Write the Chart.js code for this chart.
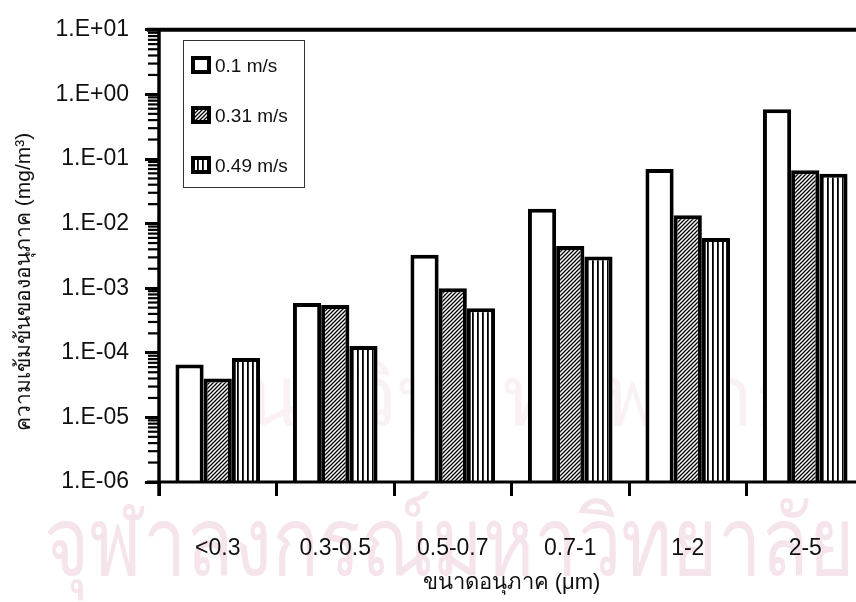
<!DOCTYPE html>
<html>
<head>
<meta charset="utf-8">
<script src="https://cdn.jsdelivr.net/npm/chart.js@4.4.1/dist/chart.umd.min.js"></script>
<style>
  html, body { margin: 0; padding: 0; background: #fff; overflow: hidden; }
  #wrap { position: relative; width: 856px; height: 602px; overflow: hidden; }
  .wm { position: absolute; white-space: nowrap; font-family: "Noto Sans", "DejaVu Sans", sans-serif; z-index: 0; transform-origin: 0 0; line-height: 1; }
  #wm1 { left: 44px; top: 490px; font-size: 96px; color: rgba(232, 185, 208, 0.38); }
  #wm2 { left: 190px; top: 352px; font-size: 82px; color: rgba(236, 200, 218, 0.26); }
  #c { position: absolute; left: 0; top: 0; z-index: 1; }
</style>
</head>
<body>
<div id="wrap">
  <div id="wm2" class="wm">ศูนย์วิทยทรัพยากร</div>
  <div id="wm1" class="wm">จุฬาลงกรณ์มหาวิทยาลัย</div>
  <canvas id="c" width="870" height="602"></canvas>
</div>
<script>
// ---- data ----
const categories = ["<0.3", "0.3-0.5", "0.5-0.7", "0.7-1", "1-2", "2-5"];
const seriesNames = ["0.1 m/s", "0.31 m/s", "0.49 m/s"];
const v01  = [6.6e-5, 5.9e-4, 3.3e-3, 1.7e-2, 7.0e-2, 0.59];
const v031 = [4.0e-5, 5.5e-4, 1.0e-3, 4.5e-3, 1.35e-2, 6.7e-2];
const v049 = [8.3e-5, 1.27e-4, 4.9e-4, 3.1e-3, 6.0e-3, 5.9e-2];
const yExponents = [-6, -5, -4, -3, -2, -1, 0, 1];
const yTitle = "ความเข้มข้นของอนุภาค (mg/m³)";
const xTitle = "ขนาดอนุภาค (μm)";

// fit watermarks horizontally
function fitWidth(id, w) {
  const el = document.getElementById(id);
  const r = el.getBoundingClientRect();
  el.style.transform = 'scaleX(' + (w / r.width) + ')';
}
fitWidth('wm1', 810);
fitWidth('wm2', 660);

// ---- patterns ----
function diagPattern() {
  const s = 4;
  const c = document.createElement('canvas');
  c.width = s; c.height = s;
  const g = c.getContext('2d');
  g.fillStyle = '#ffffff'; g.fillRect(0, 0, s, s);
  g.strokeStyle = '#000'; g.lineWidth = 1.3;
  g.beginPath();
  g.moveTo(-1, s + 1); g.lineTo(s + 1, -1);
  g.moveTo(-1, 1); g.lineTo(1, -1);
  g.moveTo(s - 1, s + 1); g.lineTo(s + 1, s - 1);
  g.stroke();
  return g.createPattern(c, 'repeat');
}
function vertPattern() {
  const s = 5;
  const c = document.createElement('canvas');
  c.width = s; c.height = s;
  const g = c.getContext('2d');
  g.fillStyle = '#ffffff'; g.fillRect(0, 0, s, s);
  g.fillStyle = '#000';
  g.fillRect(2, 0, 1.8, s);
  return g.createPattern(c, 'repeat');
}
const fills = ['#ffffff', diagPattern(), vertPattern()];

function fmtTick(e) {
  const a = Math.abs(e);
  return '1.E' + (e >= 0 ? '+' : '-') + (a < 10 ? '0' : '') + a;
}

const FONT = '"Liberation Sans", Arial, sans-serif';

const framePlugin = {
  id: 'frame',
  afterDraw(chart) {
    const ctx = chart.ctx;
    const a = chart.chartArea;
    const y = chart.scales.y;
    ctx.save();
    ctx.strokeStyle = '#000';
    ctx.fillStyle = '#000';
    // minor ticks
    ctx.lineWidth = 2.2;
    for (let e = -6; e < 1; e++) {
      for (let m = 2; m <= 9; m++) {
        const py = y.getPixelForValue(m * Math.pow(10, e));
        ctx.beginPath();
        ctx.moveTo(a.left - 11, py);
        ctx.lineTo(a.left, py);
        ctx.stroke();
      }
    }
    // frame lines
    ctx.lineWidth = 4;
    ctx.beginPath();
    ctx.moveTo(a.left - 12, a.top); ctx.lineTo(a.right + 10, a.top);
    ctx.stroke();
    ctx.lineWidth = 3.5;
    ctx.beginPath();
    ctx.moveTo(a.left, a.top); ctx.lineTo(a.left, a.bottom + 14);
    ctx.stroke();
    ctx.lineWidth = 3;
    ctx.beginPath();
    ctx.moveTo(a.left - 12, a.bottom); ctx.lineTo(a.right + 10, a.bottom);
    ctx.stroke();

    // y-axis title (rotated, drawn upward from its bottom end)
    ctx.save();
    ctx.translate(24, 431);
    ctx.rotate(-Math.PI / 2);
    ctx.font = '21px ' + FONT;
    ctx.fillStyle = '#111';
    ctx.textAlign = 'left';
    ctx.textBaseline = 'middle';
    ctx.fillText(yTitle, 0, 0);
    ctx.restore();

    // legend
    const lx = 183, ly = 40, lw = 121, lh = 147;
    ctx.lineWidth = 1;
    ctx.strokeStyle = '#333';
    ctx.strokeRect(lx + 0.5, ly + 0.5, lw, lh);
    ctx.font = '19px ' + FONT;
    ctx.textBaseline = 'middle';
    ctx.textAlign = 'left';
    const rows = [66, 116, 166];
    for (let i = 0; i < 3; i++) {
      const cy = rows[i];
      const sx = 191, sw = 20, sh = 18;
      ctx.fillStyle = '#000';
      ctx.fillRect(sx, cy - sh / 2 - 1, sw, sh);
      ctx.fillStyle = fills[i];
      ctx.fillRect(sx + 4, cy - sh / 2 + 3, sw - 8, sh - 8);
      ctx.fillStyle = '#111';
      ctx.fillText(seriesNames[i], 215, cy + 1);
    }
    ctx.restore();
  }
};

const datasets = [v01, v031, v049].map((vals, i) => ({
  label: seriesNames[i],
  data: vals,
  backgroundColor: fills[i],
  borderColor: '#000',
  borderWidth: 4,
  borderSkipped: 'bottom',
  categoryPercentage: 0.72,
  barPercentage: 1.0
}));

new Chart(document.getElementById('c'), {
  type: 'bar',
  data: { labels: categories, datasets },
  plugins: [framePlugin],
  options: {
    responsive: false,
    animation: false,
    layout: { padding: { left: 0, right: 6, top: 25, bottom: 0 } },
    plugins: { legend: { display: false }, tooltip: { enabled: false } },
    scales: {
      x: {
        type: 'category',
        grid: { drawOnChartArea: false, drawTicks: true, tickLength: 14, tickWidth: 3, tickColor: '#000', offset: true },
        border: { display: false },
        ticks: { color: '#111', font: { family: FONT, size: 23 }, padding: 39, maxRotation: 0 },
        title: { display: true, text: xTitle, color: '#111', font: { family: FONT, size: 22 }, padding: { top: 0, bottom: 6 } },
        afterFit(s) { s.height = 120; }
      },
      y: {
        type: 'logarithmic',
        min: 1e-6,
        max: 10,
        afterBuildTicks(s) { s.ticks = yExponents.map(e => ({ value: Math.pow(10, e), major: true })); },
        grid: { drawOnChartArea: false, drawTicks: true, tickLength: 14, tickWidth: 3, tickColor: '#000' },
        border: { display: false },
        ticks: {
          color: '#111',
          font: { family: FONT, size: 23 },
          padding: 16,
          autoSkip: false,
          callback(v) { return fmtTick(Math.round(Math.log10(v))); }
        },
        title: { display: false, text: yTitle },
        afterFit(s) { s.width = 159; }
      }
    }
  }
});
</script>
</body>
</html>
